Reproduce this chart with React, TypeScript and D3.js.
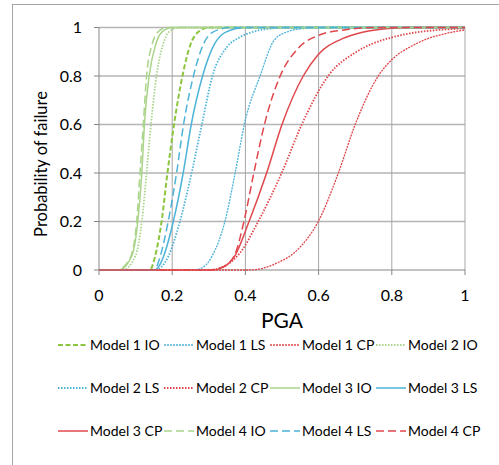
import React from 'react';
import * as d3 from 'd3';

type Pt = [number, number];

// [PGA, probability of failure]
const model1IO: Pt[] = [[0,0],[0.139,0],[0.153,0.055],[0.171,0.2],[0.187,0.4],[0.205,0.6],[0.228,0.8],[0.25,0.93],[0.27,0.98],[0.3,1],[1,1]];
const model1LS: Pt[] = [[0,0],[0.257,0],[0.285,0.012],[0.308,0.055],[0.344,0.2],[0.372,0.4],[0.397,0.6],[0.44,0.8],[0.48,0.95],[0.52,0.985],[0.56,0.996],[0.62,1],[1,1]];
const model1CP: Pt[] = [[0,0],[0.41,0],[0.45,0.008],[0.485,0.028],[0.54,0.08],[0.599,0.2],[0.654,0.4],[0.7,0.6],[0.763,0.8],[0.804,0.873],[0.85,0.92],[0.9,0.955],[0.95,0.976],[1,0.99]];
const model2IO: Pt[] = [[0,0],[0.065,0],[0.1,0.06],[0.117,0.2],[0.13,0.4],[0.142,0.6],[0.157,0.8],[0.175,0.93],[0.19,0.98],[0.22,1],[1,1]];
const model2LS: Pt[] = [[0,0],[0.155,0],[0.17,0.012],[0.189,0.055],[0.221,0.2],[0.253,0.4],[0.281,0.6],[0.31,0.8],[0.35,0.92],[0.385,0.96],[0.42,0.982],[0.46,0.994],[0.52,1],[1,1]];
const model2CP: Pt[] = [[0,0],[0.3,0],[0.345,0.018],[0.385,0.07],[0.435,0.2],[0.499,0.4],[0.554,0.6],[0.626,0.8],[0.704,0.9],[0.75,0.935],[0.795,0.957],[0.85,0.976],[0.93,0.99],[1,0.996]];
const model3IO: Pt[] = [[0,0],[0.055,0],[0.09,0.06],[0.106,0.2],[0.117,0.4],[0.124,0.6],[0.137,0.8],[0.155,0.93],[0.171,0.98],[0.2,1],[1,1]];
const model3LS: Pt[] = [[0,0],[0.15,0],[0.162,0.012],[0.176,0.055],[0.203,0.2],[0.23,0.4],[0.252,0.6],[0.283,0.8],[0.315,0.93],[0.345,0.98],[0.4,1],[1,1]];
const model3CP: Pt[] = [[0,0],[0.31,0],[0.34,0.012],[0.37,0.055],[0.41,0.2],[0.458,0.4],[0.5,0.6],[0.558,0.8],[0.598,0.887],[0.667,0.955],[0.72,0.98],[0.8,0.997],[0.85,1],[1,1]];
const model4IO: Pt[] = [[0,0],[0.05,0],[0.085,0.05],[0.103,0.2],[0.112,0.4],[0.121,0.6],[0.13,0.8],[0.145,0.93],[0.16,0.98],[0.185,1],[1,1]];
const model4LS: Pt[] = [[0,0],[0.148,0],[0.157,0.012],[0.167,0.055],[0.189,0.2],[0.212,0.4],[0.231,0.6],[0.258,0.8],[0.285,0.93],[0.31,0.98],[0.36,1],[1,1]];
const model4CP: Pt[] = [[0,0],[0.3,0],[0.337,0.012],[0.37,0.06],[0.396,0.2],[0.423,0.4],[0.452,0.6],[0.495,0.8],[0.544,0.914],[0.604,0.97],[0.67,0.99],[0.76,1],[1,1]];

const seriesNames = [
  'Model 1 IO', 'Model 1 LS', 'Model 1 CP', 'Model 2 IO',
  'Model 2 LS', 'Model 2 CP', 'Model 3 IO', 'Model 3 LS',
  'Model 3 CP', 'Model 4 IO', 'Model 4 LS', 'Model 4 CP',
];
const seriesData: Pt[][] = [
  model1IO, model1LS, model1CP, model2IO,
  model2LS, model2CP, model3IO, model3LS,
  model3CP, model4IO, model4LS, model4CP,
];

const xTicks = [0, 0.2, 0.4, 0.6, 0.8, 1];
const yTicks = [0, 0.2, 0.4, 0.6, 0.8, 1];

const GREEN1 = '#8cc63e';
const GREEN2 = '#a9d48a';
const BLUE = '#4db3d8';
const RED = '#e0474c';

const styles = [
  { color: GREEN1, dash: '5,2.5', w: 2 },
  { color: BLUE, dash: '2,1', w: 1.3 },
  { color: RED, dash: '2,1', w: 1.3 },
  { color: GREEN2, dash: '1.5,1.5', w: 1.8 },
  { color: BLUE, dash: '1.5,1.5', w: 1.8 },
  { color: RED, dash: '1.5,1.5', w: 1.8 },
  { color: GREEN2, dash: null, w: 1.5 },
  { color: BLUE, dash: null, w: 1.5 },
  { color: RED, dash: null, w: 1.5 },
  { color: GREEN2, dash: '8,4', w: 1.5 },
  { color: BLUE, dash: '8,4', w: 1.5 },
  { color: RED, dash: '8,4', w: 1.5 },
];

const FONT = 'Lato, "Open Sans", sans-serif';

export default function App() {
  const x = d3.scaleLinear().domain([0, 1]).range([99, 465]);
  const y = d3.scaleLinear().domain([0, 1]).range([270, 27.5]);
  const line = d3.line<Pt>().x(d => x(d[0])).y(d => y(d[1])).curve(d3.curveMonotoneX);

  const legX = [58, 164, 270, 376];
  const legY = [345, 388, 431];

  return (
    <svg width={499} height={465} style={{ position: 'absolute', left: 0, top: 0, background: '#fff' }} fontFamily={FONT}>
      <rect x={0} y={0} width={499} height={465} fill="#fff" />
      {/* outer frame */}
      <line x1={12} y1={4.5} x2={499} y2={4.5} stroke="#a6a6a6" strokeWidth={1} />
      <line x1={12.5} y1={4} x2={12.5} y2={465} stroke="#a6a6a6" strokeWidth={1} />

      {/* gridlines */}
      {yTicks.map(t => (
        <line key={'gy' + t} x1={x(0)} x2={x(1)} y1={y(t)} y2={y(t)} stroke="#b5b5b5" strokeWidth={t === 0 ? 0 : 1.5} />
      ))}
      {xTicks.map(t => (
        <line key={'gx' + t} x1={x(t)} x2={x(t)} y1={y(0)} y2={y(1)} stroke="#a6a6a6" strokeWidth={t === 0 ? 0 : 1} />
      ))}

      {/* axes */}
      <line x1={x(0)} x2={x(0)} y1={y(0)} y2={y(1)} stroke="#868686" strokeWidth={1} />
      <line x1={x(0)} x2={x(1)} y1={y(0)} y2={y(0)} stroke="#868686" strokeWidth={1} />
      {yTicks.map(t => (
        <g key={'ty' + t}>
          <line x1={x(0) - 5} x2={x(0)} y1={y(t)} y2={y(t)} stroke="#868686" />
          <text x={82} y={y(t)} dy="0.35em" textAnchor="end" fontSize={16} fill="#000">{String(t)}</text>
        </g>
      ))}
      {xTicks.map(t => (
        <g key={'tx' + t}>
          <line x1={x(t)} x2={x(t)} y1={y(0)} y2={y(0) + 5} stroke="#868686" />
          <text x={x(t)} y={301} textAnchor="middle" fontSize={16} fill="#000">{String(t)}</text>
        </g>
      ))}

      {/* curves */}
      {seriesData.map((d, i) => (
        <path key={seriesNames[i]} d={line(d) || ''} fill="none" stroke={styles[i].color}
          strokeWidth={styles[i].w} strokeDasharray={styles[i].dash || undefined} />
      ))}

      {/* axis titles */}
      <text x={282} y={328} textAnchor="middle" fontSize={21} fill="#000">PGA</text>
      <text transform="translate(47,164) rotate(-90)" textAnchor="middle" fontSize={16.5} fill="#000">Probability of failure</text>

      {/* legend */}
      {seriesNames.map((n, i) => {
        const lx = legX[i % 4];
        const ly = legY[Math.floor(i / 4)];
        return (
          <g key={'leg' + n}>
            <line x1={lx} x2={lx + 30} y1={ly} y2={ly} stroke={styles[i].color}
              strokeWidth={styles[i].w} strokeDasharray={styles[i].dash || undefined} />
            <text x={lx + 32} y={ly} dy="0.35em" fontSize={14} fill="#000">{n}</text>
          </g>
        );
      })}
    </svg>
  );
}
